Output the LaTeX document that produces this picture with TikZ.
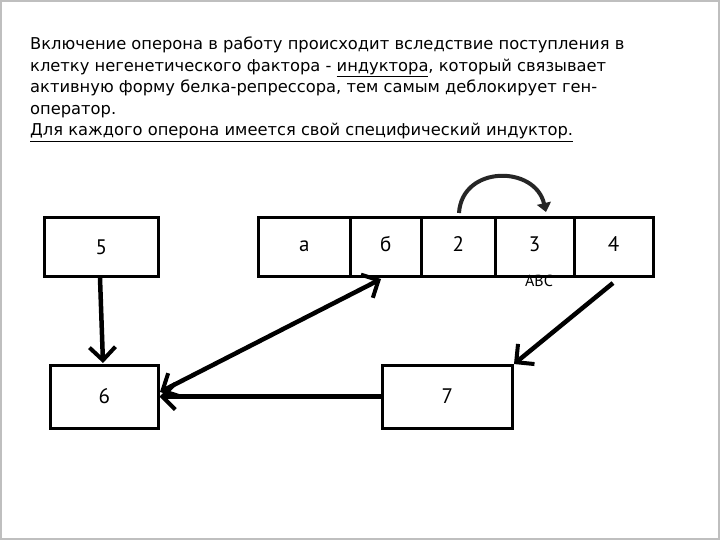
\documentclass[tikz,border=0pt]{standalone}
\usepackage{fontspec}
\setmainfont{PT Sans}
\newfontfamily\txtfont{DejaVu Sans}
\usetikzlibrary{arrows.meta}
\begin{document}
\begin{tikzpicture}[x=1pt,y=-1pt,
  txt/.style={anchor=base west,inner sep=0pt,font=\txtfont\fontsize{16.3}{18}\selectfont},
  cell/.style={draw,line width=3pt,minimum height=58pt,inner sep=0pt,font=\fontsize{21}{24}\selectfont},
  bar/.style={line width=4.5pt,-{Straight Barb[length=13pt,width=26pt,line width=4pt]}},
  bar2/.style={line width=4.5pt,{Straight Barb[length=13pt,width=26pt,line width=4pt]}-{Straight Barb[length=13pt,width=26pt,line width=4pt]}}]
\useasboundingbox (0,0) rectangle (720,540);
\fill[white] (0,0) rectangle (720,540);
\draw[black!25,line width=2pt] (1,1) rectangle (719,539);
\node[txt] (l1) at (30,50) {Включение оперона в работу происходит вследствие поступления в};
\node[txt] (l2) at (30,71.5) {клетку негенетического фактора - \underline{индуктора}, который связывает};
\node[txt] (l3) at (30,93) {активную форму белка-репрессора, тем самым деблокирует ген-};
\node[txt] (l4) at (30,114.5) {оператор.};
\node[txt] (l5) at (30,136) {\underline{Для каждого оперона имеется свой специфический индуктор.}};
\node[cell,minimum width=113.5pt] (b5) at (101.25,247) {5};
\node[cell,minimum width=91.5pt] (ba) at (304.25,247) {\strut а};
\node[cell,minimum width=71.5pt] (bb) at (385.75,247) {\strut б};
\node[cell,minimum width=73.5pt] (b2) at (458.25,247) {\strut 2};
\node[cell,minimum width=79pt] (b3) at (534.5,247) {\strut 3};
\node[cell,minimum width=79pt] (b4) at (613.5,247) {\strut 4};
\node[font=\fontsize{16}{18}\selectfont,inner sep=0pt] (abc) at (539,281) {ABC};
\node[cell,minimum width=107.5pt,minimum height=63pt] (b6) at (104.25,396.5) {6};
\node[cell,minimum width=129.5pt,minimum height=63pt] (b7) at (447.25,396.5) {7};
\coordinate (c5) at (100,278);
\coordinate (c6) at (103,363);
\draw[bar] (c5) -- (c6);
\draw[bar] (b7.west) -- (b6.east);
\coordinate (p6) at (160,392);
\coordinate (pb) at (381,279);
\draw[bar2] (p6) -- (pb);
\coordinate (q4) at (613,283);
\coordinate (q7) at (514,364);
\draw[bar] (q4) -- (q7);
\coordinate (s2) at (459,213);
\coordinate (s3) at (546,212);
\draw[line width=4pt,-{Triangle[length=9pt,width=14pt]},black!85] (s2) .. controls (462,165) and (535,165) .. (s3);
\end{tikzpicture}
\end{document}
